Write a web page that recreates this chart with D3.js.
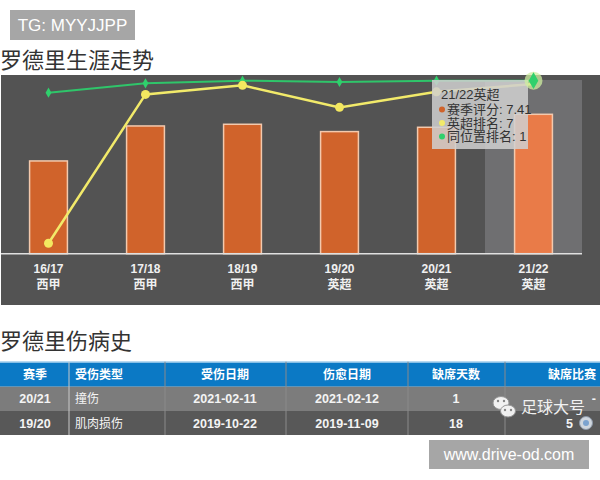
<!DOCTYPE html>
<meta charset="utf-8">
<body style="margin:0; background:#fff;">
<script src="https://d3js.org/d3.v7.min.js"></script>
<svg id="chart" width="600" height="480"></svg>
<script>
// career trend data
var seasons = ["16/17", "17/18", "18/19", "19/20", "20/21", "21/22"];
var leagues = ["西甲", "西甲", "西甲", "英超", "英超", "英超"];
var scores = [4.93, 6.79, 6.88, 6.49, 6.72, 7.41];       // 赛季评分
var leagueRank = [130, 15, 8, 25, 13, 7];                 // 英超排名 (league rank)
var positionRank = [10, 3, 1, 2, 1, 1];                   // 同位置排名

// injury table data
var injuryHeaders = ["赛季", "受伤类型", "受伤日期", "伤愈日期", "缺席天数", "缺席比赛"];
var injurySeasons = ["20/21", "19/20"];
var injuryTypes = ["撞伤", "肌肉损伤"];
var injuryStart = ["2021-02-11", "2019-10-22"];
var injuryEnd = ["2021-02-12", "2019-11-09"];
var daysOut = ["1", "18"];
var gamesMissed = ["-", "5"];

var svg = d3.select("#chart");
var font = "'Liberation Sans', 'Noto Sans CJK SC', sans-serif";
var cjk = "'Noto Sans CJK SC', sans-serif";

// watermark top left
svg.append("rect").attr("x", 10).attr("y", 10).attr("width", 125).attr("height", 30).attr("fill", "#a6a6a6");
svg.append("text").attr("x", 72.5).attr("y", 31).attr("text-anchor", "middle")
   .attr("fill", "#fff").style("font", "17px " + font).text("TG: MYYJJPP");

// title
svg.append("text").attr("x", 0).attr("y", 68).attr("fill", "#333")
   .style("font", "22px " + cjk).text("罗德里生涯走势");

// panel
svg.append("rect").attr("x", 1).attr("y", 75).attr("width", 599).attr("height", 230).attr("fill", "#535353");

var x = d3.scaleBand().domain(seasons).range([0, 582]);
var y = d3.scaleLinear().domain([0, 8]).range([253.7, 103.2]);
var yRank = d3.scaleLinear().domain([0, 130]).range([75, 243.3]);
var yPos = d3.scaleLinear().domain([0, 10]).range([79.3, 92.7]);
var barW = x.bandwidth() * 0.39;
var cx = function(d, i) { return x(seasons[i]) + x.bandwidth() / 2; };

// highlighted band (hover)
svg.append("rect").attr("x", x("21/22")).attr("y", 80).attr("width", x.bandwidth())
   .attr("height", y(0) - 80).attr("fill", "#6f6f71");

// bars
svg.append("g").selectAll("rect").data(scores).join("rect")
   .attr("x", function(d, i) { return cx(d, i) - barW / 2; })
   .attr("y", function(d) { return y(d); })
   .attr("width", barW)
   .attr("height", function(d) { return y(0) - y(d); })
   .attr("fill", function(d, i) { return i == 5 ? "#e97b48" : "#d0632b"; })
   .attr("stroke", "#f3c9ad").attr("stroke-width", 1.5);

// axis line
svg.append("line").attr("x1", 1).attr("x2", 582).attr("y1", y(0)).attr("y2", y(0))
   .attr("stroke", "#e0e0e0").attr("stroke-width", 1.5);

var xAxis = svg.append("g").selectAll("g").data(seasons).join("g");
xAxis.append("text").attr("x", function(d, i) { return cx(d, i); }).attr("y", 273)
   .attr("text-anchor", "middle").attr("fill", "#f0f0f0")
   .style("font", "bold 12px " + font).text(function(d) { return d; });
xAxis.append("text").attr("x", function(d, i) { return cx(d, i); }).attr("y", 289)
   .attr("text-anchor", "middle").attr("fill", "#f0f0f0")
   .style("font", "bold 12px " + cjk).text(function(d, i) { return leagues[i]; });

// green line: position rank
var greenLine = d3.line().x(function(d, i) { return cx(d, i); }).y(function(d) { return yPos(d); });
svg.append("path").attr("d", greenLine(positionRank)).attr("fill", "none")
   .attr("stroke", "#2fc56a").attr("stroke-width", 2);
svg.append("g").selectAll("path").data(positionRank.slice(0, 5)).join("path")
   .attr("d", d3.symbol(d3.symbolDiamond, 30))
   .attr("transform", function(d, i) { return "translate(" + cx(d, i) + "," + yPos(d) + ")"; })
   .attr("fill", "#2fd06c");

// yellow line: league rank
var yellowLine = d3.line().x(function(d, i) { return cx(d, i); }).y(function(d) { return yRank(d); });
svg.append("path").attr("d", yellowLine(leagueRank)).attr("fill", "none")
   .attr("stroke", "#f2ea6a").attr("stroke-width", 2.5);
svg.append("g").selectAll("circle").data(leagueRank.slice(0, 5)).join("circle")
   .attr("cx", function(d, i) { return cx(d, i); })
   .attr("cy", function(d) { return yRank(d); })
   .attr("r", 4.5).attr("fill", "#f3e860");

// tooltip
var tip = svg.append("g").attr("transform", "translate(432,80)");
tip.append("rect").attr("width", 96).attr("height", 69).attr("fill", "#cfcfcf").attr("opacity", 0.86);
tip.append("text").attr("x", 9).attr("y", 19).attr("fill", "#333")
   .style("font", "13px " + font).text(seasons[5] + leagues[5]);
var tipRows = [["赛季评分: ", scores[5], "#d0632b"], ["英超排名: ", leagueRank[5], "#f2ea6a"], ["同位置排名: ", positionRank[5], "#2fd06c"]];
tipRows.forEach(function(r, i) {
  tip.append("circle").attr("cx", 10).attr("cy", 29.5 + i * 13.5).attr("r", 3).attr("fill", r[2]);
  tip.append("text").attr("x", 15).attr("y", 34 + i * 13.5).attr("fill", "#333")
     .style("font", "13px " + font).text(r[0] + r[1]);
});

// highlighted point on top
var hx = cx(0, 5), hy = yPos(positionRank[5]);
svg.append("circle").attr("cx", hx).attr("cy", hy).attr("r", 9).attr("fill", "#cdeea0").attr("opacity", 0.75);
svg.append("path").attr("d", d3.symbol(d3.symbolDiamond, 80)).attr("transform", "translate(" + hx + "," + hy + ")")
   .attr("fill", "#2fd06c");

// injury title
svg.append("text").attr("x", 0).attr("y", 349).attr("fill", "#333")
   .style("font", "22px " + cjk).text("罗德里伤病史");

// table
var colX = [0, 69, 165, 286, 408, 505, 600];
var rowsY = [361.7, 386.7, 411, 435];
var table = svg.append("g");
table.append("rect").attr("x", 0).attr("y", rowsY[0]).attr("width", 600).attr("height", rowsY[1] - rowsY[0]).attr("fill", "#0b79c5");
table.append("rect").attr("x", 0).attr("y", rowsY[1]).attr("width", 600).attr("height", rowsY[2] - rowsY[1]).attr("fill", "#7c7c7c");
table.append("rect").attr("x", 0).attr("y", rowsY[2]).attr("width", 600).attr("height", rowsY[3] - rowsY[2]).attr("fill", "#585858");
table.append("line").attr("x1", 0).attr("x2", 600).attr("y1", rowsY[0] + 0.5).attr("y2", rowsY[0] + 0.5).attr("stroke", "#bfe0f5");
colX.slice(1, 6).forEach(function(c, i) {
  table.append("line").attr("x1", c).attr("x2", c).attr("y1", rowsY[0]).attr("y2", rowsY[3])
     .attr("stroke", i == 0 ? "#c8c8c8" : "#8a8a8a").attr("stroke-width", 1);
});

// anchor / position per column
var colPos = [[35, "middle"], [75, "start"], [225, "middle"], [347, "middle"], [456, "middle"], [596, "end"]];
injuryHeaders.forEach(function(h, i) {
  table.append("text").attr("x", colPos[i][0]).attr("y", 378.5).attr("text-anchor", colPos[i][1])
     .attr("fill", "#fff").style("font", "bold 12px " + cjk).text(h);
});
var rows = injurySeasons.map(function(s, i) {
  return [s, injuryTypes[i], injuryStart[i], injuryEnd[i], daysOut[i], gamesMissed[i]];
});
rows.forEach(function(r, ri) {
  var ty = (rowsY[ri + 1] + rowsY[ri + 2]) / 2 + 4.5;
  r.forEach(function(v, ci) {
    var px = colPos[ci][0];
    if (ci == 5 && v != "-") px = 573;
    table.append("text").attr("x", px).attr("y", ty).attr("text-anchor", colPos[ci][1])
       .attr("fill", "#f4f4f4").style("font", (ci == 1 ? "12px " + cjk : "bold 12.5px " + font)).text(v);
  });
});
// club badge next to games missed
table.append("circle").attr("cx", 586).attr("cy", 423).attr("r", 6.5).attr("fill", "#cfd6de").attr("stroke", "#8a96a6");
table.append("circle").attr("cx", 586).attr("cy", 423).attr("r", 3).attr("fill", "#7ca3cf");

// wechat watermark
var wm = svg.append("g").attr("opacity", 0.9);
wm.append("ellipse").attr("cx", 501).attr("cy", 403).attr("rx", 8).attr("ry", 6.5).attr("fill", "#fff").attr("stroke", "#999");
wm.append("ellipse").attr("cx", 508).attr("cy", 411).attr("rx", 7.5).attr("ry", 6).attr("fill", "#fff").attr("stroke", "#999");
[[498, 401], [504, 401], [505, 410], [511, 410]].forEach(function(p) {
  wm.append("circle").attr("cx", p[0]).attr("cy", p[1]).attr("r", 1.2).attr("fill", "#888");
});
wm.append("text").attr("x", 521).attr("y", 413).attr("fill", "#fff")
   .style("font", "16px " + cjk).text("足球大号");

// watermark bottom right
svg.append("rect").attr("x", 429).attr("y", 440).attr("width", 160).attr("height", 29).attr("fill", "#a6a6a6");
svg.append("text").attr("x", 509).attr("y", 460).attr("text-anchor", "middle")
   .attr("fill", "#fff").style("font", "16px " + font).text("www.drive-od.com");
</script>
</body>
